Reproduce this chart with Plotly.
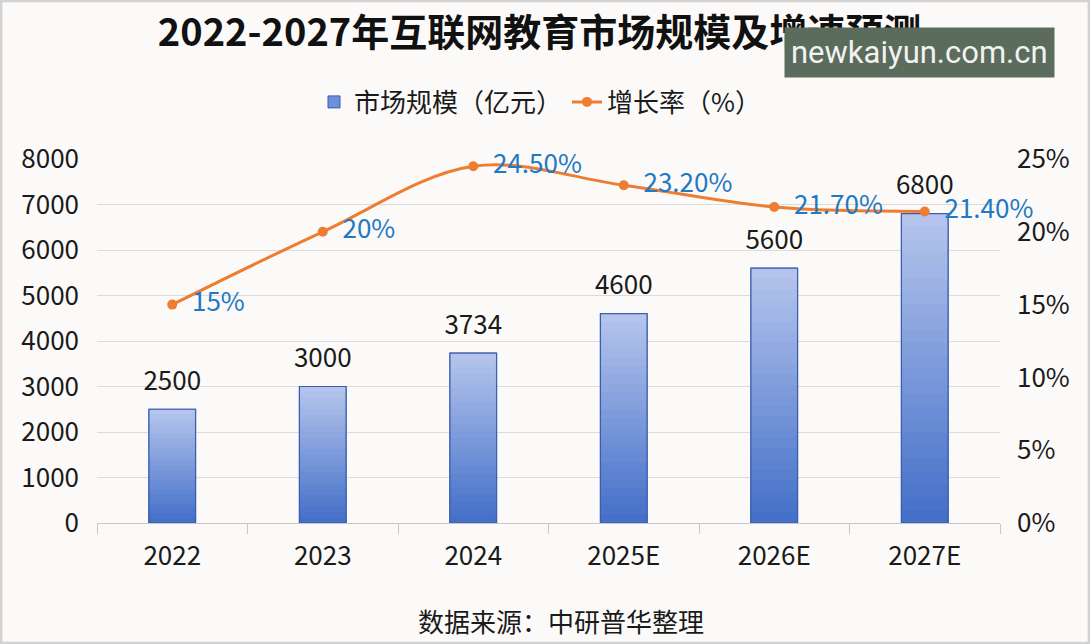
import plotly.graph_objects as go

categories = ["2022", "2023", "2024", "2025E", "2026E", "2027E"]
market_size = [2500, 3000, 3734, 4600, 5600, 6800]
growth_rate = [15, 20, 24.5, 23.2, 21.7, 21.4]
growth_labels = ["15%", "20%", "24.50%", "23.20%", "21.70%", "21.40%"]
left_ticks = [0, 1000, 2000, 3000, 4000, 5000, 6000, 7000, 8000]
right_ticks = [0, 5, 10, 15, 20, 25]
right_tick_text = ["0%", "5%", "10%", "15%", "20%", "25%"]

FONT = "Noto Sans CJK SC"
FS = 26
BAR_W = 0.31
top_rgb = (180, 196, 236)
bot_rgb = (68, 112, 200)
N = 24

fig = go.Figure()

# base bar (legend entry)
fig.add_trace(go.Bar(
    x=categories, y=market_size, name="市场规模（亿元）", width=BAR_W,
    marker=dict(color="#6f8fd8", line=dict(color="#3a5db0", width=1)),
    showlegend=True, hoverinfo="skip"))

# gradient overlay slices, derived from each bar's own value
for k in range(N):
    f = (N - k) / N
    t = k / (N - 1)
    c = tuple(round(top_rgb[i] + (bot_rgb[i] - top_rgb[i]) * t) for i in range(3))
    fig.add_trace(go.Bar(
        x=categories, y=[v * f for v in market_size], width=BAR_W,
        marker=dict(color="rgb(%d,%d,%d)" % c, line=dict(width=0)),
        showlegend=False, hoverinfo="skip"))

# outline on top
fig.add_trace(go.Bar(
    x=categories, y=market_size, width=BAR_W,
    marker=dict(color="rgba(0,0,0,0)", line=dict(color="#3a5db0", width=1.2)),
    showlegend=False, hoverinfo="skip"))

# bar value labels
fig.add_trace(go.Scatter(
    x=categories, y=market_size, mode="markers+text",
    marker=dict(size=19, color="rgba(0,0,0,0)"),
    text=[str(v) for v in market_size], textposition="top center",
    textfont=dict(family=FONT, size=FS, color="#1a1a1a"),
    cliponaxis=False, showlegend=False, hoverinfo="skip"))

fig.add_trace(go.Scatter(
    x=categories, y=growth_rate, name="增长率（%）", yaxis="y2",
    mode="lines+markers",
    line=dict(color="#ed7d31", width=3, shape="spline", smoothing=1.0),
    marker=dict(color="#ed7d31", size=10),
    cliponaxis=False))

# growth labels
fig.add_trace(go.Scatter(
    x=categories, y=growth_rate, yaxis="y2", mode="markers+text",
    marker=dict(size=30, color="rgba(0,0,0,0)"),
    text=growth_labels, textposition="middle right",
    textfont=dict(family=FONT, size=FS, color="#2178c4"),
    cliponaxis=False, showlegend=False, hoverinfo="skip"))

L, R, T, B = 97, 90, 159, 121
W, H = 1090, 644
pw, ph = W - L - R, H - T - B

fig.update_layout(
    width=W, height=H,
    margin=dict(l=L, r=R, t=T, b=B),
    paper_bgcolor="#fcfaf9", plot_bgcolor="#fcfaf9",
    barmode="overlay",
    font=dict(family=FONT, size=FS, color="#1a1a1a"),
    title=dict(text="<b>2022-2027年互联网教育市场规模及增速预测</b>",
               x=0.495, xanchor="center", y=1 - 33 / H, yanchor="middle",
               font=dict(family=FONT, size=38, color="#111111")),
    legend=dict(orientation="h", x=(540 - L) / pw, xanchor="center",
                y=(H - B - 102) / ph, yanchor="middle",
                font=dict(family=FONT, size=26), bgcolor="rgba(0,0,0,0)",
                itemwidth=30, traceorder="normal"),
    xaxis=dict(type="category", showgrid=False, showline=True,
               linecolor="#c8c8c8", linewidth=1, ticks="outside",
               tickson="boundaries", ticklen=10, tickcolor="#c8c8c8",
               tickfont=dict(family=FONT, size=FS), ticklabelstandoff=10),
    yaxis=dict(range=[0, 8000], tickvals=left_ticks, showgrid=True,
               gridcolor="#dcdada", gridwidth=1, zeroline=False,
               showline=False, ticks="", tickfont=dict(family=FONT, size=FS),
               ticklabelstandoff=17),
    yaxis2=dict(range=[0, 25], tickvals=right_ticks, ticktext=right_tick_text,
                overlaying="y", side="right", showgrid=False,
                zeroline=False, showline=False,
                tickfont=dict(family=FONT, size=FS), ticklabelstandoff=16),
    showlegend=True,
)

fig.add_annotation(text="数据来源：中研普华整理", xref="paper", yref="paper",
                   x=(561 - L) / pw, y=(H - B - 620) / ph,
                   xanchor="center", yanchor="middle", showarrow=False,
                   font=dict(family=FONT, size=26, color="#1a1a1a"))

fig.add_annotation(text="newkaiyun.com.cn", xref="paper", yref="paper",
                   x=(919 - L) / pw, y=(H - B - 53) / ph,
                   xanchor="center", yanchor="middle", showarrow=False,
                   bgcolor="#5b6c5d", borderpad=6,
                   font=dict(family="Roboto", size=31, color="#f2f2f2"))

fig.add_shape(type="rect", xref="paper", yref="paper",
              x0=-L / pw + 0.001, x1=(W - L) / pw - 0.001,
              y0=-B / ph + 0.002, y1=(H - B) / ph - 0.002,
              line=dict(color="#d2d2d2", width=3), fillcolor="rgba(0,0,0,0)",
              layer="below")

fig.write_html("out.html")
